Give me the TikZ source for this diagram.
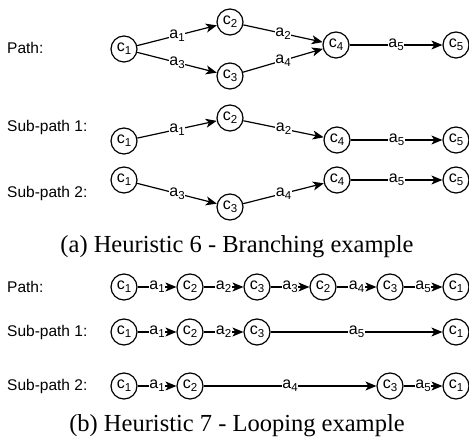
\documentclass[tikz,border=0pt]{standalone}
\usepackage{fontspec}
\setmainfont{Liberation Serif}
\newfontfamily\helv{Liberation Sans}
\usetikzlibrary{arrows.meta}

\tikzset{
  cnode/.style={draw, circle, line width=1.2pt, minimum size=26pt, inner sep=0pt,
    font=\helv\fontsize{16}{16}\selectfont},
  elbl/.style={fill=white, inner sep=0.8pt, font=\helv\fontsize{16}{16}\selectfont},
  rowlbl/.style={anchor=west, inner sep=0pt, font=\helv\fontsize{15.5}{15.5}\selectfont},
  caption/.style={inner sep=0pt, font=\fontsize{24.5}{26}\selectfont},
  trans/.style={line width=1.2pt, -{Stealth[length=11pt,width=9pt,inset=3pt]}},
}
\newcommand{\idx}[1]{\raisebox{-0.35ex}{\fontsize{11.5}{11.5}\selectfont #1}}
\newcommand{\cn}[1]{c\idx{#1}}
\newcommand{\an}[1]{a\idx{#1}}

\begin{document}
\begin{tikzpicture}[x=1pt,y=-1pt]
\useasboundingbox (0,0) rectangle (469,443);

% (a) branching
\node[rowlbl] (lpa) at (7,48) {Path:};
\node[cnode] (pc1) at (124,49) {\cn{1}};
\node[cnode] (pc2) at (230,22) {\cn{2}};
\node[cnode] (pc3) at (230,76) {\cn{3}};
\node[cnode] (pc4) at (336,45) {\cn{4}};
\node[cnode] (pc5) at (456,45) {\cn{5}};
\draw[trans] (pc1) -- node[elbl] {\an{1}} (pc2);
\draw[trans] (pc1) -- node[elbl] {\an{3}} (pc3);
\draw[trans] (pc2) -- node[elbl] {\an{2}} (pc4);
\draw[trans] (pc3) -- node[elbl] {\an{4}} (pc4);
\draw[trans] (pc4) -- node[elbl] {\an{5}} (pc5);

\node[rowlbl] (lsa1) at (7,127) {Sub-path 1:};
\node[cnode] (sa1c1) at (124,141) {\cn{1}};
\node[cnode] (sa1c2) at (230,118) {\cn{2}};
\node[cnode] (sa1c4) at (337,140) {\cn{4}};
\node[cnode] (sa1c5) at (456,140) {\cn{5}};
\draw[trans] (sa1c1) -- node[elbl] {\an{1}} (sa1c2);
\draw[trans] (sa1c2) -- node[elbl] {\an{2}} (sa1c4);
\draw[trans] (sa1c4) -- node[elbl] {\an{5}} (sa1c5);

\node[rowlbl] (lsa2) at (7,193) {Sub-path 2:};
\node[cnode] (sa2c1) at (124,180) {\cn{1}};
\node[cnode] (sa2c3) at (230,207) {\cn{3}};
\node[cnode] (sa2c4) at (337,180) {\cn{4}};
\node[cnode] (sa2c5) at (456,180) {\cn{5}};
\draw[trans] (sa2c1) -- node[elbl] {\an{3}} (sa2c3);
\draw[trans] (sa2c3) -- node[elbl] {\an{4}} (sa2c4);
\draw[trans] (sa2c4) -- node[elbl] {\an{5}} (sa2c5);

\node[caption] (capa) at (237,247) {(a) Heuristic 6 - Branching example};

% (b) looping
\node[rowlbl] (lpb) at (7,287) {Path:};
\node[cnode] (qc1) at (124,287) {\cn{1}};
\node[cnode] (qc2) at (190,287) {\cn{2}};
\node[cnode] (qc3) at (257,287) {\cn{3}};
\node[cnode] (qc2b) at (323,287) {\cn{2}};
\node[cnode] (qc3b) at (390,287) {\cn{3}};
\node[cnode] (qc1b) at (456,287) {\cn{1}};
\draw[trans] (qc1) -- node[elbl] {\an{1}} (qc2);
\draw[trans] (qc2) -- node[elbl] {\an{2}} (qc3);
\draw[trans] (qc3) -- node[elbl] {\an{3}} (qc2b);
\draw[trans] (qc2b) -- node[elbl] {\an{4}} (qc3b);
\draw[trans] (qc3b) -- node[elbl] {\an{5}} (qc1b);

\node[rowlbl] (lsb1) at (7,332) {Sub-path 1:};
\node[cnode] (sb1c1) at (124,332) {\cn{1}};
\node[cnode] (sb1c2) at (190,332) {\cn{2}};
\node[cnode] (sb1c3) at (257,332) {\cn{3}};
\node[cnode] (sb1c1b) at (456,332) {\cn{1}};
\draw[trans] (sb1c1) -- node[elbl] {\an{1}} (sb1c2);
\draw[trans] (sb1c2) -- node[elbl] {\an{2}} (sb1c3);
\draw[trans] (sb1c3) -- node[elbl] {\an{5}} (sb1c1b);

\node[rowlbl] (lsb2) at (7,386) {Sub-path 2:};
\node[cnode] (sb2c1) at (124,386) {\cn{1}};
\node[cnode] (sb2c2) at (190,386) {\cn{2}};
\node[cnode] (sb2c3) at (390,386) {\cn{3}};
\node[cnode] (sb2c1b) at (456,386) {\cn{1}};
\draw[trans] (sb2c1) -- node[elbl] {\an{1}} (sb2c2);
\draw[trans] (sb2c2) -- node[elbl] {\an{4}} (sb2c3);
\draw[trans] (sb2c3) -- node[elbl] {\an{5}} (sb2c1b);

\node[caption] (capb) at (237,426) {(b) Heuristic 7 - Looping example};

\end{tikzpicture}
\end{document}
